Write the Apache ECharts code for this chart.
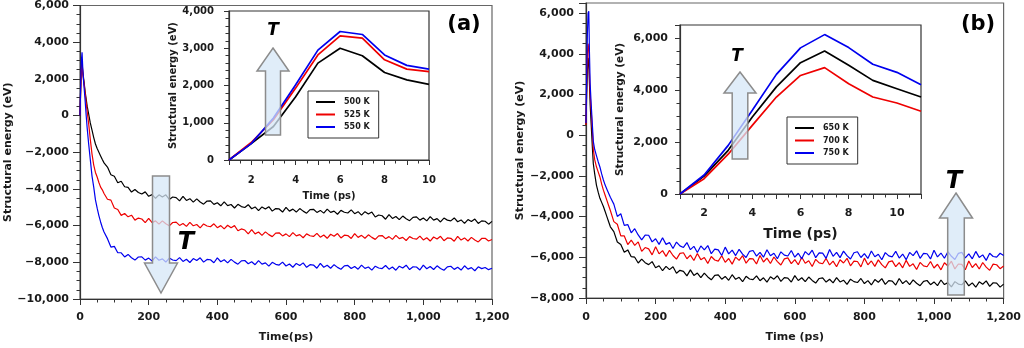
<!DOCTYPE html>
<html><head><meta charset="utf-8">
<script src="https://cdn.jsdelivr.net/npm/echarts@6/dist/echarts.min.js"></script>
<style>html,body{margin:0;padding:0;background:#fff}#c{width:1024px;height:348px}</style>
</head><body><div id="c"></div>
<script>
// ---------- data ----------
const timeMain = [0,2,4,6,8,10,12,15,18,21,25,30,35,40,45,50,55,60,65,70,
80,90,100,110,120,130,140,150,160,170,
180,190,200,210,220,230,240,250,260,270,
280,290,300,310,320,330,340,350,360,370,
380,390,400,410,420,430,440,450,460,470,
480,490,500,510,520,530,540,550,560,570,
580,590,600,610,620,630,640,650,660,670,
680,690,700,710,720,730,740,750,760,770,
780,790,800,810,820,830,840,850,860,870,
880,890,900,910,920,930,940,950,960,970,
980,990,1000,1010,1020,1030,1040,1050,1060,1070,
1080,1090,1100,1110,1120,1130,1140,1150,1160,1170,
1180,1190,1200];

// panel (a) main
const a500 = [0,1500,2600,2900,2400,2100,1800,1300,900,500,100,-400,-800,-1200,-1550,-1800,-2000,-2200,-2400,-2580,
-2810,-3230,-3310,-3660,-3580,-3880,-3910,-4170,-4030,-4190,
-4280,-4160,-4400,-4310,-4510,-4320,-4440,-4320,-4570,-4440,
-4470,-4650,-4400,-4630,-4530,-4720,-4540,-4710,-4830,-4660,
-4650,-4840,-4750,-4920,-4710,-4910,-4850,-5040,-4840,-4960,
-5010,-4860,-5080,-4980,-5180,-4980,-5100,-4970,-5210,-5070,
-5090,-5260,-5000,-5210,-5100,-5260,-5070,-5210,-5320,-5130,
-5110,-5280,-5170,-5320,-5100,-5280,-5210,-5380,-5170,-5270,
-5310,-5140,-5350,-5240,-5430,-5240,-5370,-5260,-5530,-5420,
-5460,-5650,-5400,-5610,-5500,-5670,-5480,-5630,-5730,-5550,
-5520,-5700,-5580,-5740,-5510,-5700,-5620,-5800,-5590,-5700,
-5740,-5580,-5790,-5690,-5880,-5670,-5780,-5640,-5880,-5740,
-5760,-5920,-5770];
const a525 = [0,1400,2500,2800,2300,2000,1700,1200,700,200,-400,-1300,-2100,-2700,-3100,-3350,-3650,-3900,-4050,-4250,
-4560,-4610,-5040,-5120,-5440,-5340,-5520,-5430,-5700,-5590,
-5640,-5840,-5610,-5840,-5740,-5920,-5740,-5900,-6010,-5830,
-5810,-5990,-5880,-6040,-5820,-6010,-5940,-6120,-5910,-6020,
-6060,-5900,-6110,-6000,-6180,-5980,-6110,-6000,-6280,-6180,
-6240,-6450,-6220,-6450,-6350,-6530,-6340,-6490,-6600,-6410,
-6390,-6560,-6450,-6600,-6380,-6560,-6490,-6660,-6450,-6550,
-6590,-6420,-6630,-6510,-6690,-6470,-6580,-6430,-6670,-6520,
-6540,-6700,-6440,-6640,-6530,-6690,-6500,-6640,-6750,-6560,
-6540,-6710,-6600,-6750,-6530,-6710,-6640,-6810,-6600,-6700,
-6740,-6570,-6780,-6660,-6840,-6620,-6730,-6580,-6820,-6670,
-6690,-6850,-6590,-6790,-6670,-6840,-6640,-6780,-6890,-6700,
-6690,-6840,-6760];
const a550 = [0,1800,3000,3450,2600,2000,1500,800,0,-700,-1500,-2400,-3300,-3900,-4600,-5050,-5450,-5800,-6100,-6350,
-6710,-7170,-7130,-7480,-7480,-7710,-7570,-7750,-7880,-7710,
-7700,-7880,-7770,-7925,-7700,-7885,-7810,-7985,-7770,-7875,
-7910,-7745,-7950,-7835,-8010,-7795,-7900,-7755,-7990,-7845,
-7860,-8025,-7760,-7970,-7860,-8030,-7840,-7990,-8100,-7920,
-7900,-8080,-7970,-8130,-7910,-8100,-8030,-8210,-8000,-8110,
-8150,-7990,-8200,-8090,-8270,-8060,-8170,-8030,-8270,-8130,
-8150,-8320,-8060,-8270,-8160,-8325,-8130,-8275,-8380,-8195,
-8170,-8340,-8225,-8375,-8150,-8330,-8255,-8425,-8210,-8310,
-8340,-8175,-8375,-8255,-8430,-8210,-8310,-8160,-8395,-8245,
-8255,-8415,-8150,-8350,-8230,-8390,-8190,-8335,-8435,-8245,
-8215,-8385,-8270,-8420,-8190,-8370,-8290,-8460,-8245,-8345,
-8280,-8400,-8320];

// panel (b) main
const b650 = [500,2000,3200,3800,3500,2500,1500,500,-500,-1400,-1900,-2450,-2800,-3100,-3300,-3500,-3750,-4000,-4250,-4500,
-4740,-5245,-5370,-5750,-5635,-5970,-5995,-6280,-6085,-6265,
-6360,-6210,-6510,-6415,-6660,-6445,-6605,-6465,-6780,-6640,
-6690,-6915,-6620,-6890,-6775,-7000,-6780,-6965,-7105,-6890,
-6860,-7075,-6940,-7130,-6855,-7080,-6985,-7200,-6935,-7065,
-7100,-6910,-7150,-7005,-7220,-6955,-7075,-6905,-7180,-7000,
-7020,-7215,-6900,-7140,-7005,-7200,-6970,-7135,-7265,-7040,
-7010,-7215,-7080,-7260,-6995,-7210,-7125,-7330,-7075,-7195,
-7240,-7040,-7290,-7145,-7360,-7095,-7225,-7045,-7330,-7150,
-7170,-7365,-7040,-7290,-7145,-7340,-7110,-7275,-7395,-7180,
-7140,-7345,-7210,-7390,-7115,-7340,-7245,-7450,-7195,-7315,
-7350,-7160,-7400,-7255,-7470,-7205,-7325,-7155,-7430,-7250,
-7270,-7465,-7320];
const b700 = [500,2500,4000,4500,4200,3000,2000,1200,300,-700,-1200,-1550,-1800,-2050,-2400,-2700,-2950,-3200,-3450,-3700,
-4245,-4375,-4945,-4950,-5375,-5150,-5410,-5240,-5710,-5520,
-5585,-5880,-5480,-5830,-5670,-5955,-5655,-5910,-6090,-5805,
-5775,-6070,-5895,-6155,-5810,-6115,-6010,-6300,-5960,-6130,
-6185,-5925,-6245,-6060,-6335,-5990,-6150,-5920,-6290,-6060,
-6075,-6330,-5910,-6230,-6040,-6305,-5985,-6210,-6380,-6075,
-6025,-6310,-6115,-6365,-6000,-6295,-6170,-6450,-6100,-6270,
-6315,-6055,-6375,-6190,-6465,-6120,-6280,-6050,-6420,-6190,
-6205,-6470,-6040,-6370,-6180,-6445,-6125,-6360,-6520,-6225,
-6175,-6460,-6265,-6515,-6150,-6445,-6320,-6600,-6250,-6420,
-6465,-6205,-6525,-6340,-6615,-6270,-6430,-6190,-6570,-6330,
-6345,-6610,-6180,-6500,-6310,-6575,-6255,-6480,-6640,-6335,
-6365,-6560,-6430];
const b750 = [600,3000,5000,6000,6100,4000,2500,1500,600,-300,-700,-1000,-1300,-1560,-1900,-2200,-2450,-2650,-2850,-3050,
-3385,-3990,-3860,-4430,-4390,-4795,-4595,-4900,-5140,-4905,
-4915,-5240,-5085,-5365,-5040,-5365,-5270,-5570,-5250,-5440,
-5515,-5275,-5625,-5460,-5765,-5440,-5630,-5420,-5820,-5600,
-5635,-5910,-5500,-5830,-5650,-5915,-5605,-5840,-6010,-5705,
-5665,-5940,-5755,-5995,-5630,-5925,-5800,-6070,-5730,-5890,
-5935,-5665,-5995,-5800,-6075,-5720,-5880,-5650,-6020,-5780,
-5795,-6050,-5620,-5950,-5760,-6015,-5695,-5920,-6080,-5775,
-5725,-6010,-5815,-6055,-5690,-5975,-5850,-6120,-5770,-5930,
-5975,-5705,-6035,-5840,-6115,-5760,-5920,-5680,-6050,-5810,
-5825,-6080,-5650,-5980,-5790,-6045,-5725,-5950,-6110,-5805,
-5755,-6030,-5835,-6075,-5710,-6005,-5880,-6150,-5800,-5960,
-5990,-5800,-5910];

// insets
const insetTimeA = [1,2,3,4,5,6,7,8,9,10];
const ins500 = [0,440,900,1700,2600,3000,2800,2350,2150,2030];
const ins525 = [0,470,1080,1930,2820,3330,3270,2690,2440,2370];
const ins550 = [0,440,1125,2020,2950,3450,3370,2820,2540,2440];
const insetTimeB = [1,2,3,4,5,6,7,8,9,10,11];
const ins650 = [0,690,1680,2960,4120,5050,5500,4950,4370,4050,3730];
const ins700 = [0,590,1530,2640,3730,4560,4860,4240,3730,3500,3180];
const ins750 = [0,730,1870,3220,4600,5620,6130,5630,4990,4680,4200];

const legendA = ['500 K','525 K','550 K'];
const legendB = ['650 K','700 K','750 K'];
const colors = ['#000000','#ee0000','#0000ee'];

// ---------- helpers ----------
const FONT = 'DejaVu Sans';
function fmtNum(v){
  const n = Math.abs(Math.round(v));
  const s = String(n).replace(/\B(?=(\d{3})+(?!\d))/g, ',');
  return v < 0 ? '\u2212' + s : s;
}
function fmtStep(step){ return v => (Math.abs(v % step) < 1e-6 ? fmtNum(v) : ''); }
function fmtEven(v){ return (Math.round(v) % 2 === 0) ? String(v) : ''; }
function pairs(t, v){ return t.map((x, i) => [x, v[i]]); }

function mkAxis(o){
  return {
    type: 'value', gridIndex: o.grid, min: o.min, max: o.max, interval: o.interval,
    position: o.pos, z: o.z || 2,
    name: o.name, nameLocation: 'middle', nameGap: o.nameGap, nameRotate: o.rot,
    nameTextStyle: {color: '#1a1a1a', fontWeight: 'bold', fontFamily: FONT, fontSize: o.nameSize},
    axisLine: {show: true, onZero: false, lineStyle: {color: '#333', width: 1.2}},
    axisTick: {show: true, inside: false, length: o.tick || 6, lineStyle: {color: '#333', width: 1}},
    minorTick: {show: true, splitNumber: o.minor, length: o.minorLen || 3.5, lineStyle: {color: '#333', width: 1}},
    splitLine: {show: false}, minorSplitLine: {show: false},
    axisLabel: {color: '#1a1a1a', fontWeight: 'bold', fontFamily: FONT, fontSize: o.labelSize,
                margin: o.margin, formatter: o.fmt, hideOverlap: false}
  };
}

function upArrow(cx, tip, base, bottom, hw, sw){
  return [[cx, tip],[cx+hw, base],[cx+sw, base],[cx+sw, bottom],[cx-sw, bottom],[cx-sw, base],[cx-hw, base]];
}
function downArrow(cx, tip, base, top, hw, sw){
  return [[cx, tip],[cx+hw, base],[cx+sw, base],[cx+sw, top],[cx-sw, top],[cx-sw, base],[cx-hw, base]];
}
const arrowStyle = {fill: 'rgba(214,231,247,0.75)', stroke: '#8c8c8c', lineWidth: 1.5};
function tText(x, y, size){
  return {type: 'text', x: x, y: y, z: 30, style: {text: 'T', fontSize: size, fontStyle: 'italic', fontWeight: 'bold',
    fontFamily: FONT, fill: '#000', align: 'center', verticalAlign: 'middle'}};
}

const chart = echarts.init(document.getElementById('c'), null, {renderer: 'canvas'});

const grids = [
  {left: 80, top: 5, width: 412, height: 294, show: true, borderColor: '#666', borderWidth: 1.2, backgroundColor: 'transparent'},
  {left: 229, top: 11, width: 200, height: 149, show: true, borderColor: '#333', borderWidth: 1.2, backgroundColor: '#fff', z: 5},
  {left: 586, top: 3, width: 419, height: 300, show: true, borderColor: '#666', borderWidth: 1.2, backgroundColor: 'transparent'},
  {left: 680, top: 25, width: 241, height: 169, show: true, borderColor: '#333', borderWidth: 1.2, backgroundColor: '#fff', z: 5}
];

const xAxes = [
  mkAxis({grid: 0, min: 0, max: 1200, interval: 200, pos: 'bottom', name: 'Time(ps)', nameGap: 33, nameSize: 11, labelSize: 11, margin: 13, minor: 4, tick: 6, fmt: fmtNum}),
  mkAxis({grid: 1, min: 1, max: 10, interval: 1, pos: 'bottom', name: 'Time (ps)', nameGap: 31, nameSize: 10, labelSize: 10, margin: 15, minor: 2, tick: 5, fmt: fmtEven, z: 6}),
  mkAxis({grid: 2, min: 0, max: 1200, interval: 200, pos: 'bottom', name: 'Time (ps)', nameGap: 34, nameSize: 11, labelSize: 11, margin: 14, minor: 4, tick: 6, fmt: fmtNum}),
  mkAxis({grid: 3, min: 1, max: 11, interval: 1, pos: 'bottom', name: 'Time (ps)', nameGap: 33, nameSize: 14, labelSize: 11, margin: 14, minor: 2, tick: 5, fmt: fmtEven, z: 6})
];
const yAxes = [
  mkAxis({grid: 0, min: -10000, max: 6000, interval: 2000, pos: 'left', name: 'Structural energy (eV)', rot: 90, nameGap: 64, nameSize: 11, labelSize: 11, margin: 11, minor: 4, tick: 7, fmt: fmtStep(2000)}),
  mkAxis({grid: 1, min: 0, max: 4000, interval: 1000, pos: 'left', name: 'Structural energy (eV)', rot: 90, nameGap: 51, nameSize: 10, labelSize: 10, margin: 15, minor: 5, tick: 5, z: 6, fmt: fmtStep(1000)}),
  mkAxis({grid: 2, min: -8000, max: 6500, interval: 2000, pos: 'left', name: 'Structural energy (eV)', rot: 90, nameGap: 57, nameSize: 11, labelSize: 11, margin: 12, minor: 4, tick: 7, fmt: fmtStep(2000)}),
  mkAxis({grid: 3, min: 0, max: 6500, interval: 2000, pos: 'left', name: 'Structural energy (eV)', rot: 90, nameGap: 54, nameSize: 10.5, labelSize: 11, margin: 12, minor: 4, tick: 5, z: 6, fmt: fmtStep(2000)})
];

function mainSeries(name, ax, t, v, color){
  return {type: 'line', name: name, xAxisIndex: ax, yAxisIndex: ax, data: pairs(t, v), showSymbol: false, symbol: 'none',
    lineStyle: {color: color, width: 1.2}, itemStyle: {color: color}, z: 2, silent: true};
}
function insetSeries(name, ax, t, v, color){
  return {type: 'line', name: name, xAxisIndex: ax, yAxisIndex: ax, data: pairs(t, v), showSymbol: false, symbol: 'none',
    lineStyle: {color: color, width: 1.7}, itemStyle: {color: color}, z: 7, silent: true};
}

const series = [
  mainSeries('a500', 0, timeMain, a500, colors[0]),
  mainSeries('a525', 0, timeMain, a525, colors[1]),
  mainSeries('a550', 0, timeMain, a550, colors[2]),
  insetSeries(legendA[0], 1, insetTimeA, ins500, colors[0]),
  insetSeries(legendA[1], 1, insetTimeA, ins525, colors[1]),
  insetSeries(legendA[2], 1, insetTimeA, ins550, colors[2]),
  mainSeries('b650', 2, timeMain, b650, colors[0]),
  mainSeries('b700', 2, timeMain, b700, colors[1]),
  mainSeries('b750', 2, timeMain, b750, colors[2]),
  insetSeries(legendB[0], 3, insetTimeB, ins650, colors[0]),
  insetSeries(legendB[1], 3, insetTimeB, ins700, colors[1]),
  insetSeries(legendB[2], 3, insetTimeB, ins750, colors[2])
];

function mkLegend(data, left, top){
  return {data: data, left: left, top: top, orient: 'vertical', icon: 'rect', itemWidth: 19, itemHeight: 2, itemGap: 2.5,
    padding: [6, 9, 6, 8], borderColor: '#333', borderWidth: 1, backgroundColor: '#fff', z: 10, selectedMode: false,
    textStyle: {fontSize: 8, fontWeight: 'bold', fontFamily: FONT, color: '#1a1a1a', lineHeight: 10, padding: [0, 0, 0, 4]}};
}

const option = {
  animation: false,
  backgroundColor: '#fff',
  grid: grids,
  xAxis: xAxes,
  yAxis: yAxes,
  legend: [mkLegend(legendA, 308, 91), mkLegend(legendB, 787, 117)],
  series: series,
  graphic: [
    {type: 'polygon', z: 25, shape: {points: upArrow(273, 48, 71, 135, 16, 7.5)}, style: arrowStyle},
    {type: 'polygon', z: 25, shape: {points: downArrow(161, 293, 263, 176, 16.5, 8.5)}, style: arrowStyle},
    {type: 'polygon', z: 25, shape: {points: upArrow(740, 72, 93, 159, 16, 7.8)}, style: arrowStyle},
    {type: 'polygon', z: 25, shape: {points: upArrow(956, 193, 218, 295, 16.5, 8.3)}, style: arrowStyle},
    tText(273, 31, 17), tText(186, 243, 24), tText(737, 57, 17), tText(954, 182, 24),
    {type: 'text', x: 464, y: 25, z: 30, style: {text: '(a)', fontSize: 21, fontWeight: 'bold', fontFamily: FONT, fill: '#000', align: 'center', verticalAlign: 'middle'}},
    {type: 'text', x: 978, y: 25, z: 30, style: {text: '(b)', fontSize: 21, fontWeight: 'bold', fontFamily: FONT, fill: '#000', align: 'center', verticalAlign: 'middle'}}
  ]
};
chart.setOption(option);
</script>
</body></html>
